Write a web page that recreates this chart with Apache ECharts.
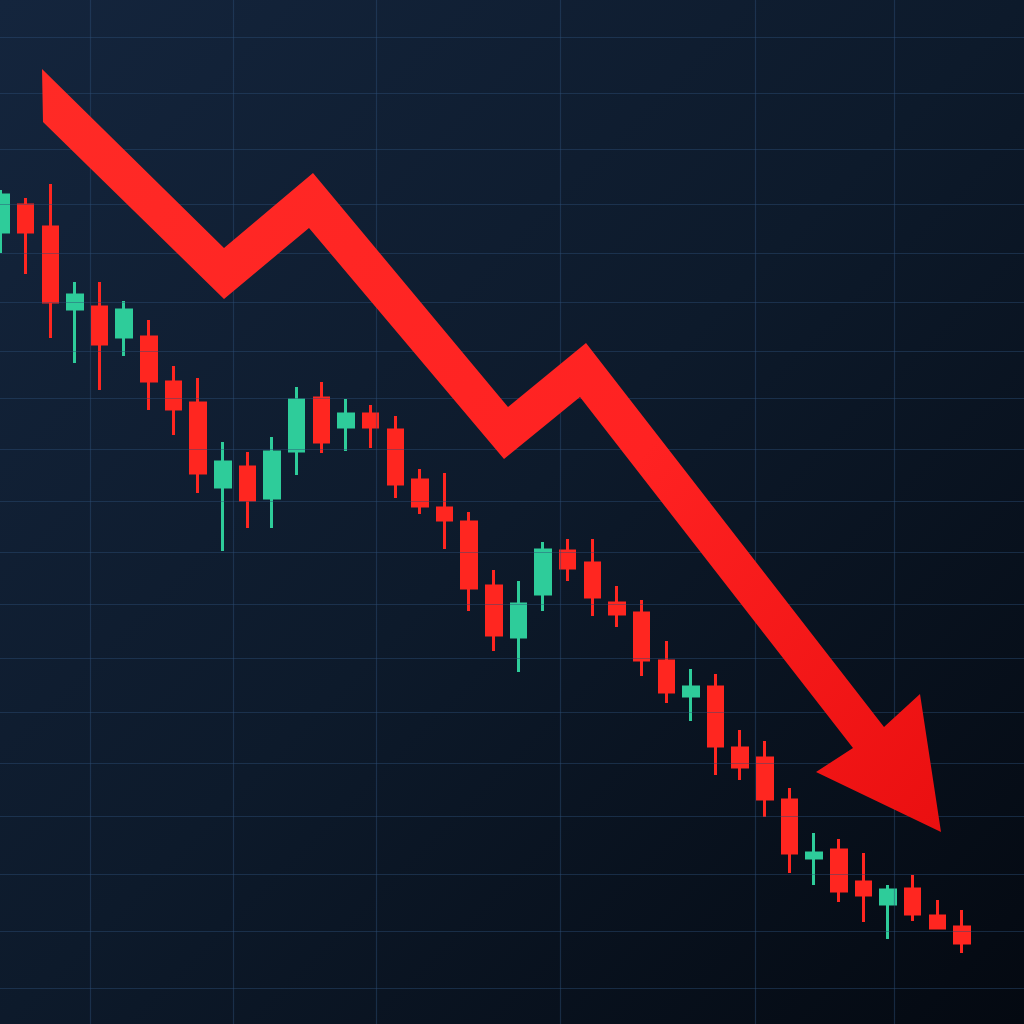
<!DOCTYPE html>
<html>
<head>
<meta charset="utf-8">
<style>
html,body{margin:0;padding:0;background:#0b1524;}
#chart{width:1024px;height:1024px;}
</style>
<script src="https://cdn.jsdelivr.net/npm/echarts@6/dist/echarts.min.js"></script>
</head>
<body>
<div id="chart"></div>
<script>
// Session index labels (categories)
var categories = [];
for (var i = 1; i <= 40; i++) categories.push('D' + i);

// OHLC, format: [open, close, low, high]
var opens  = [79.2,81.9,79.7,71.5,71.7,68.7,68.7,64.2,62.1,53.7,55.7,52.6,57.3,62.6,59.7,61.0,59.4,54.4,51.6,50.2,43.8,38.7,43.0,47.3,46.1,42.1,41.1,36.3,32.8,33.7,27.6,26.6,22.4,16.6,17.4,14.2,12.0,13.5,10.8,9.7];
var closes = [82.9,79.2,72.2,72.9,68.0,71.4,64.3,61.5,55.1,56.2,52.4,57.2,62.4,58.2,61.0,59.7,54.0,51.8,50.4,43.6,38.9,42.0,47.4,45.6,42.7,41.0,36.4,33.2,33.7,27.8,25.7,22.5,17.1,17.1,13.3,12.9,13.4,11.0,9.6,8.1];
var lows   = [77.1,75.0,68.6,66.1,63.4,66.8,61.4,58.9,53.1,47.3,49.6,49.6,54.9,57.1,57.3,57.6,52.6,51.0,47.5,41.3,37.3,35.2,41.3,44.3,40.8,39.7,34.8,32.1,30.3,24.9,24.4,20.7,15.1,13.9,12.2,10.2,8.5,10.3,9.6,7.1];
var highs  = [83.4,82.6,84.0,74.2,74.2,72.3,70.4,65.8,64.6,58.2,57.2,58.7,63.7,64.2,62.5,61.9,60.8,55.5,55.1,51.2,45.4,44.3,48.2,48.5,48.5,43.8,42.4,38.3,35.5,35.0,29.4,28.3,23.6,19.1,18.5,17.1,13.9,14.9,12.4,11.4];

// Background grid line positions (canvas-space helper axis, 0..1024)
var gridXs = [90, 233, 376, 560, 755, 894];
var gridYs = [37, 93, 149, 204, 253, 302, 351, 398, 449, 501, 552, 604, 658, 712, 763, 816, 874, 931, 988];

// Trend arrow outline (helper axis, 0..1024)
var arrowX = [42, 224, 313, 508, 586, 884, 920, 941, 816, 853, 580, 504, 309, 224, 43];
var arrowY = [69, 248, 173, 407, 343, 727, 694, 832, 772, 748, 397, 459, 228, 299, 122];

var ohlc = opens.map(function (o, i) { return [o, closes[i], lows[i], highs[i]]; });

var markData = [];
gridXs.forEach(function (x) { markData.push({ xAxis: x }); });
gridYs.forEach(function (y) { markData.push({ yAxis: y }); });

var chart = echarts.init(document.getElementById('chart'), null, { renderer: 'canvas' });
chart.setOption({
  animation: false,
  backgroundColor: new echarts.graphic.LinearGradient(0, 0, 1, 1, [
    { offset: 0, color: '#14253d' },
    { offset: 0.5, color: '#0d1a2b' },
    { offset: 1, color: '#040911' }
  ]),
  grid: [
    { left: 1, right: 62, top: 0, bottom: 0 },
    { left: 0, right: 0, top: 0, bottom: 0 }
  ],
  xAxis: [
    { type: 'category', data: categories, gridIndex: 0, boundaryGap: false, show: false },
    { type: 'value', gridIndex: 1, min: 0, max: 1024, show: false }
  ],
  yAxis: [
    { type: 'value', gridIndex: 0, min: 0, max: 102.4, show: false, splitLine: { show: false } },
    { type: 'value', gridIndex: 1, min: 0, max: 1024, inverse: true, show: false }
  ],
  series: [
    {
      type: 'line', xAxisIndex: 1, yAxisIndex: 1, data: [], z: 0, silent: true,
      markLine: {
        silent: true, symbol: ['none', 'none'], animation: false,
        label: { show: false },
        lineStyle: { color: 'rgba(44,78,118,0.45)', width: 1.2, type: 'solid' },
        emphasis: { disabled: true },
        data: markData
      }
    },
    {
      type: 'candlestick', xAxisIndex: 0, yAxisIndex: 0, z: 3,
      barWidth: 15, clip: false,
      data: ohlc,
      itemStyle: {
        color: '#2ecc9a', color0: '#ff2620',
        borderColor: '#2ecc9a', borderColor0: '#ff2620',
        borderWidth: 3
      }
    },
    {
      type: 'custom', xAxisIndex: 1, yAxisIndex: 1, z: 5, silent: true,
      data: [[0, 0]],
      renderItem: function (params, api) {
        var pts = arrowX.map(function (x, i) { return api.coord([x, arrowY[i]]); });
        return {
          type: 'polygon',
          shape: { points: pts },
          style: {
            fill: new echarts.graphic.LinearGradient(0, 0, 1, 1, [
              { offset: 0, color: '#ff2a26' },
              { offset: 0.6, color: '#ff2222' },
              { offset: 1, color: '#ea0f10' }
            ])
          }
        };
      }
    }
  ]
});
</script>
</body>
</html>
